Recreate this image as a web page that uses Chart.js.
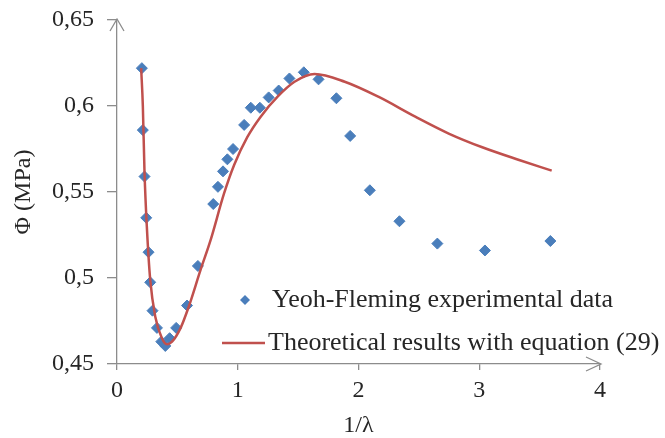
<!DOCTYPE html>
<html>
<head>
<meta charset="utf-8">
<script src="https://cdn.jsdelivr.net/npm/chart.js@4/dist/chart.umd.min.js"></script>
<style>
  html, body { margin: 0; padding: 0; background: #fff; }
  #wrap { width: 665px; height: 438px; }
</style>
</head>
<body>
<div id="wrap"><canvas id="phiChart"></canvas></div>
<script>
// experimental points (1/lambda, Phi in MPa)
const expX = [0.206, 0.214, 0.228, 0.242, 0.261, 0.275, 0.294, 0.331, 0.367, 0.400,
              0.436, 0.490, 0.580, 0.670, 0.797, 0.836, 0.878, 0.914, 0.961, 1.053,
              1.108, 1.183, 1.256, 1.339, 1.428, 1.547, 1.669, 1.817, 1.931, 2.094,
              2.339, 2.653, 3.047, 3.589];
const expY = [0.622, 0.586, 0.559, 0.535, 0.515, 0.4975, 0.481, 0.471, 0.463, 0.4605,
              0.465, 0.471, 0.484, 0.507, 0.543, 0.553, 0.562, 0.569, 0.575, 0.589,
              0.599, 0.599, 0.605, 0.609, 0.616, 0.6196, 0.6155, 0.6045, 0.5826, 0.551,
              0.533, 0.520, 0.516, 0.5215];

// theoretical curve, eq. (29)
const theoX = [0.200, 0.214, 0.228, 0.247, 0.275, 0.317, 0.372, 0.414, 0.456, 0.525,
               0.594, 0.692, 0.775, 0.886, 0.970, 1.080, 1.190, 1.330, 1.470, 1.636,
               1.886, 2.164, 2.470, 2.747, 3.025, 3.330, 3.600];
const theoY = [0.622, 0.600, 0.561, 0.530, 0.499, 0.4775, 0.465, 0.4615, 0.463, 0.4707,
               0.4833, 0.5047, 0.522, 0.549, 0.5657, 0.582, 0.5938, 0.6054, 0.6141, 0.6186,
               0.6141, 0.6054, 0.5938, 0.584, 0.576, 0.5686, 0.5624];

const xTicks = [0, 1, 2, 3, 4];
const yTicks = [0.45, 0.5, 0.55, 0.6, 0.65];

const serif = "'Liberation Serif', 'Times New Roman', serif";
const axisGray = "#8c8c8c";
const textCol = "#262626";

const toPts = (xs, ys) => xs.map((x, i) => ({ x: x, y: ys[i] }));

// arrow heads at axis ends
const arrows = {
    id: "arrows",
    afterDraw(chart) {
        const a = chart.chartArea, c = chart.ctx;
        c.save();
        c.strokeStyle = axisGray;
        c.lineWidth = 1.3;
        c.beginPath();
        c.moveTo(a.left - 7, a.top + 11);
        c.lineTo(a.left, a.top - 1);
        c.lineTo(a.left + 7, a.top + 11);
        c.moveTo(a.right - 14, a.bottom - 7);
        c.lineTo(a.right + 1, a.bottom);
        c.lineTo(a.right - 14, a.bottom + 7);
        c.stroke();
        c.restore();
    }
};

// legend sitting inside the plot, lower right
const innerLegend = {
    id: "innerLegend",
    afterDraw(chart) {
        const c = chart.ctx;
        const ds = chart.data.datasets;
        c.save();
        c.font = "26px " + serif;
        c.textBaseline = "middle";
        // row 1: marker
        c.fillStyle = ds[0].backgroundColor;
        c.beginPath();
        c.moveTo(245, 295); c.lineTo(250, 300); c.lineTo(245, 305); c.lineTo(240, 300);
        c.closePath(); c.fill();
        c.fillStyle = textCol;
        c.fillText(ds[0].label, 272, 300);
        // row 2: line
        c.strokeStyle = ds[1].borderColor;
        c.lineWidth = 2.5;
        c.beginPath(); c.moveTo(222, 343); c.lineTo(265, 343); c.stroke();
        c.fillText(ds[1].label, 268, 343);
        c.restore();
    }
};

new Chart(document.getElementById("phiChart"), {
    type: "scatter",
    data: {
        datasets: [
        {
            label: "Yeoh-Fleming experimental data",
            data: toPts(expX, expY),
            backgroundColor: "#4a7ebb",
            borderColor: "#4a7ebb",
            pointStyle: "rectRot",
            pointRadius: 5.5,
            showLine: false,
            order: 1,
        },
        {
            label: "Theoretical results with equation (29)",
            data: toPts(theoX, theoY),
            type: "line",
            borderColor: "#c0504d",
            borderWidth: 2.5,
            pointRadius: 0,
            fill: false,
            cubicInterpolationMode: "monotone",
            order: 0,
        },
        ],
    },
    options: {
        responsive: true,
        maintainAspectRatio: false,
        animation: false,
        layout: { padding: { top: 20, right: 65, left: 0, bottom: 0 } },
        plugins: {
            legend: { display: false },
            tooltip: { enabled: false },
        },
        scales: {
            x: {
                type: "linear",
                min: 0,
                max: 4,
                afterFit: (s) => { s.height = 74; s.paddingLeft = 0; s.paddingRight = 0; },
                afterBuildTicks: (s) => { s.ticks = xTicks.map((v) => ({ value: v })); },
                border: { color: axisGray, width: 1.3 },
                grid: { drawOnChartArea: false, color: axisGray, tickLength: 6, lineWidth: 1.3 },
                ticks: {
                    color: textCol,
                    font: { family: serif, size: 24 },
                    padding: 6,
                    callback: (v) => String(v),
                },
                title: {
                    display: true,
                    text: "1/λ",
                    color: textCol,
                    font: { family: serif, size: 24, lineHeight: 1 },
                    padding: { top: 0, bottom: 0 },
                },
            },
            y: {
                min: 0.45,
                max: 0.65,
                afterFit: (s) => { s.width = 117; s.paddingTop = 0; s.paddingBottom = 0; },
                afterBuildTicks: (s) => { s.ticks = yTicks.map((v) => ({ value: v })); },
                border: { color: axisGray, width: 1.3 },
                grid: { drawOnChartArea: false, color: axisGray, tickLength: 10, lineWidth: 1.3 },
                ticks: {
                    color: textCol,
                    font: { family: serif, size: 24 },
                    padding: 13,
                    callback: (v) => String(Math.round(v * 100) / 100).replace(".", ","),
                },
                title: {
                    display: true,
                    text: "Φ (MPa)",
                    color: textCol,
                    font: { family: serif, size: 24, lineHeight: 1 },
                    padding: { top: 12, bottom: 0 },
                },
            },
        },
    },
    plugins: [arrows, innerLegend],
});
</script>
</body>
</html>
